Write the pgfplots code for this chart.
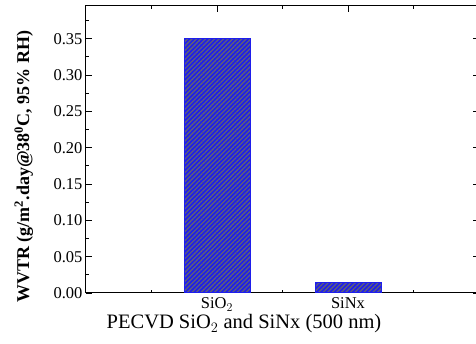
\documentclass[border=0pt]{standalone}
\usepackage{pgfplots}
\pgfplotsset{compat=1.18}
\usepackage{fontspec}
\setmainfont{Liberation Serif}
\usetikzlibrary{patterns.meta}
\definecolor{barblue}{RGB}{30,30,235}
\definecolor{hatch}{RGB}{95,95,120}
\begin{document}
\begin{tikzpicture}
\begin{axis}[
  name=ax,
  scale only axis,
  width=393pt, height=287pt,
  xmin=0, xmax=3, ymin=0, ymax=0.395,
  xtick={1,2}, xticklabels={SiO$_2$, SiNx},
  minor xtick={0.5,1.5,2.5},
  ytick={0,0.05,...,0.35},
  minor ytick={0.025,0.075,...,0.375},
  major tick length=6pt, minor tick length=3pt,
  tick style={black, line width=0.8pt},
  axis line style={line width=1pt},
  /pgf/number format/assume math mode=true,
  yticklabel style={/pgf/number format/.cd, fixed, fixed zerofill, precision=2},
  ticklabel style={font=\fontsize{16.5}{18}\selectfont},
  xticklabel style={yshift=-1pt},
  ylabel={\textbf{WVTR (g/m$^{\mathbf{2}}$.day@38$^{\mathbf{0}}$C, 95\% RH)}},
  ylabel style={at={(axis description cs:-0.158,0.44)}, anchor=center, rotate=0, font=\fontsize{18}{20}\selectfont},
  xlabel={PECVD SiO$_2$ and SiNx (500 nm)},
  xlabel style={at={(axis description cs:0.402,-0.108)}, anchor=center, fill=white, inner sep=1pt, font=\fontsize{20.5}{22}\selectfont},
]
\addplot[ybar, bar width=66pt, draw=barblue, line width=1pt, fill=barblue,
  postaction={pattern={Lines[angle=45,distance=3.2pt,line width=1.3pt]}, pattern color=hatch}]
  coordinates {(1,0.35) (2,0.015)};
\end{axis}
\pgfresetboundingbox
\path (ax.south west) ++(-86pt,-51pt) rectangle ++(476pt,344pt);
\end{tikzpicture}
\end{document}
